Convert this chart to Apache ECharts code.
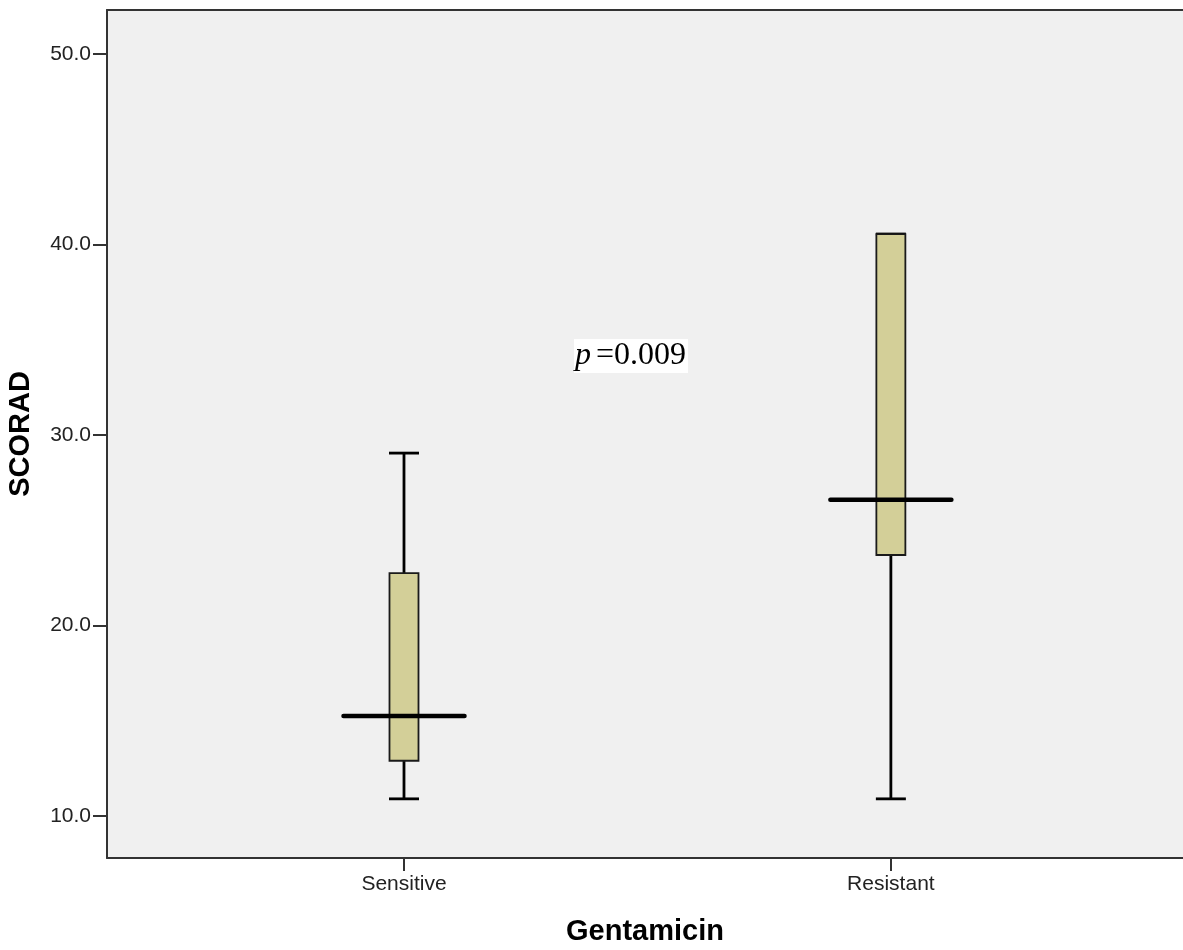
<!DOCTYPE html>
<html>
<head>
<meta charset="utf-8">
<script src="https://cdn.jsdelivr.net/npm/echarts@6/dist/echarts.min.js"></script>
<style>html,body{margin:0;padding:0;background:#fff;}#c{width:1183px;height:950px;}</style>
</head>
<body>
<div id="c"></div>
<script>
// Data
var categories = ['Sensitive', 'Resistant'];
var categoryPos = [1, 2];
var minVals = [10.9, 10.9];
var q1Vals = [12.9, 23.7];
var medianVals = [15.25, 26.6];
var q3Vals = [22.75, 40.55];
var maxVals = [29.05, 40.55];
var yTicks = [10, 20, 30, 40, 50];
var pLabel = '=0.009';

var chart = echarts.init(document.getElementById('c'));
var data = categories.map(function (c, i) {
  return [categoryPos[i], minVals[i], q1Vals[i], medianVals[i], q3Vals[i], maxVals[i]];
});

function renderItem(params, api) {
  var x = api.value(0);
  var pMin = api.coord([x, api.value(1)]);
  var pQ1 = api.coord([x, api.value(2)]);
  var pMed = api.coord([x, api.value(3)]);
  var pQ3 = api.coord([x, api.value(4)]);
  var pMax = api.coord([x, api.value(5)]);
  var cx = pMin[0];
  var boxW = 29, capW = 30, medW = 121;
  var line = {stroke: '#000', lineWidth: 2.8};
  return {
    type: 'group',
    children: [
      {type: 'line', shape: {x1: cx, y1: pMin[1], x2: cx, y2: pQ1[1]}, style: line},
      {type: 'line', shape: {x1: cx, y1: pQ3[1], x2: cx, y2: pMax[1]}, style: line},
      {type: 'line', shape: {x1: cx - capW / 2, y1: pMin[1], x2: cx + capW / 2, y2: pMin[1]}, style: line},
      {type: 'line', shape: {x1: cx - capW / 2, y1: pMax[1], x2: cx + capW / 2, y2: pMax[1]}, style: line},
      {type: 'rect', shape: {x: cx - boxW / 2, y: pQ3[1], width: boxW, height: pQ1[1] - pQ3[1]},
        style: {fill: '#d3cf98', stroke: '#1a1a1a', lineWidth: 1.8}},
      {type: 'line', shape: {x1: cx - medW / 2, y1: pMed[1], x2: cx + medW / 2, y2: pMed[1]},
        style: {stroke: '#000', lineWidth: 4.5, lineCap: 'round'}}
    ]
  };
}

var axisLineStyle = {color: '#333', width: 2};
var sans = 'Liberation Sans, Arial, sans-serif';
chart.setOption({
  animation: false,
  grid: {left: 107, top: 10, right: 0, bottom: 92, show: true, backgroundColor: '#f0f0f0', borderWidth: 0,
    containLabel: false, outerBoundsMode: 'none'},
  xAxis: [{
    type: 'value', min: 0.39, max: 2.6,
    name: 'Gentamicin', nameLocation: 'middle', nameGap: 59,
    nameTextStyle: {fontFamily: sans, fontWeight: 'bold', fontSize: 29, color: '#000'},
    splitLine: {show: false},
    axisLine: {show: true, lineStyle: axisLineStyle},
    axisTick: {show: true, customValues: categoryPos, length: 13, lineStyle: {color: '#333', width: 2}},
    axisLabel: {customValues: categoryPos, margin: 16, fontSize: 21, color: '#222', fontFamily: sans,
      formatter: function (v) { var i = categoryPos.indexOf(Math.round(v)); return i >= 0 ? categories[i] : ''; }}
  }, {
    type: 'value', min: 0.39, max: 2.6, position: 'top',
    axisLine: {show: true, lineStyle: axisLineStyle},
    axisTick: {show: false}, axisLabel: {show: false}, splitLine: {show: false}
  }],
  yAxis: {
    type: 'value', min: 7.795, max: 52.31,
    name: 'SCORAD', nameLocation: 'middle', nameGap: 72,
    nameTextStyle: {fontFamily: sans, fontWeight: 'bold', fontSize: 29, color: '#000'},
    splitLine: {show: false},
    axisLine: {show: true, lineStyle: axisLineStyle},
    axisTick: {show: true, customValues: yTicks, length: 14, lineStyle: {color: '#333', width: 2}},
    axisLabel: {customValues: yTicks, margin: 16, fontSize: 21, color: '#222', fontFamily: sans,
      formatter: function (v) { return v.toFixed(1); }}
  },
  series: [{
    type: 'custom', renderItem: renderItem, data: data, encode: {x: 0, y: [1, 2, 3, 4, 5]}
  }],
  graphic: [{
    type: 'text', left: 574, top: 339, z: 100,
    style: {
      text: '{i|p}{n|' + pLabel + '}',
      backgroundColor: '#fff', padding: [1, 2, 1, 1],
      rich: {
        i: {fontFamily: 'Liberation Serif, Times New Roman, serif', fontStyle: 'italic', fontSize: 32, fill: '#000', padding: [0, 5, 0, 0]},
        n: {fontFamily: 'Liberation Serif, Times New Roman, serif', fontSize: 32, fill: '#000'}
      }
    }
  }]
});
</script>
</body>
</html>
